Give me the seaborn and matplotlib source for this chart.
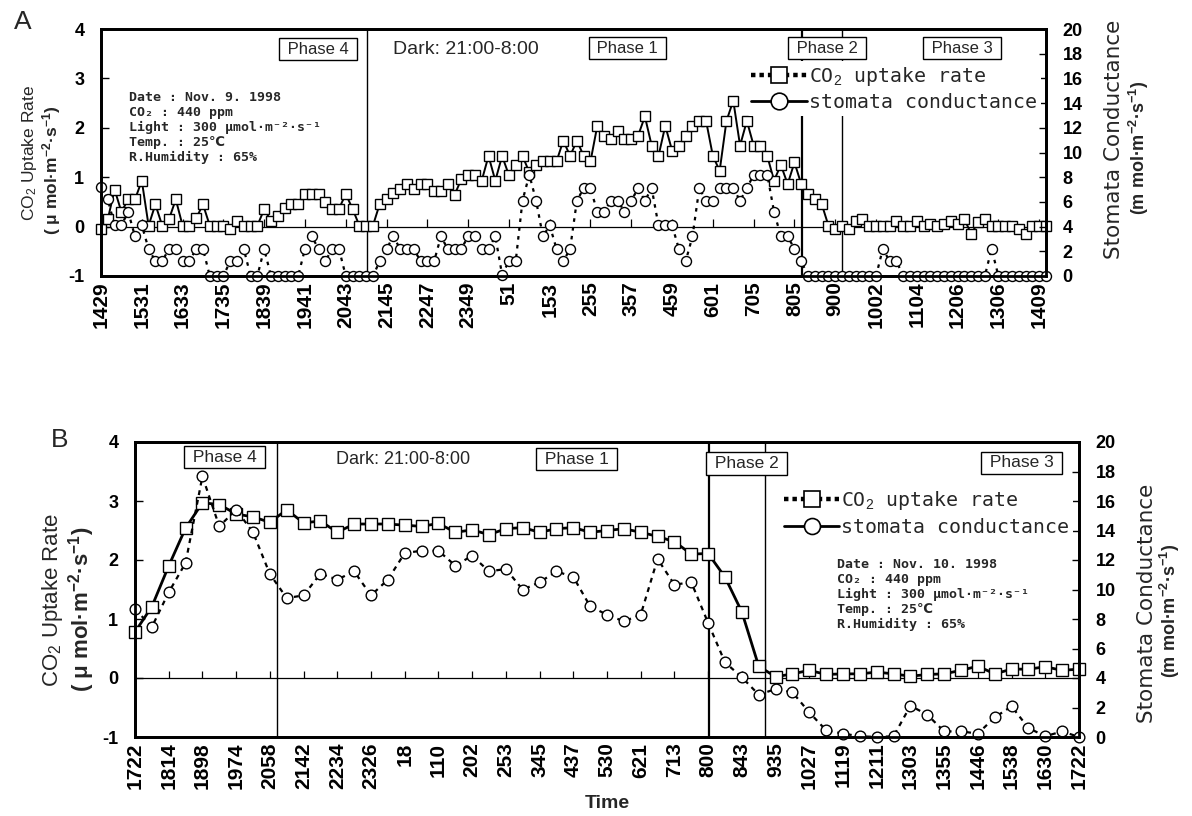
import matplotlib
matplotlib.use("Agg")
import matplotlib.pyplot as plt
import seaborn as sns
import numpy as np
import pandas as pd
from matplotlib.lines import Line2D

# ---------------- Panel A data (Nov. 9, 1998) ----------------
a_time_labels = ['1429', '1531', '1633', '1735', '1839', '1941', '2043', '2145',
                 '2247', '2349', '51', '153', '255', '357', '459', '601', '705',
                 '805', '900', '1002', '1104', '1206', '1306', '1409']
a_label_step = 6
a_co2 = [-0.05, 0.15, 0.75, 0.30, 0.55, 0.55, 0.93, 0.02, 0.45, 0.02,
         0.15, 0.55, 0.02, 0.02, 0.17, 0.45, 0.02, 0.02, 0.02, -0.05,
         0.12, 0.02, 0.02, 0.02, 0.35, 0.12, 0.22, 0.37, 0.46, 0.46,
         0.66, 0.66, 0.66, 0.49, 0.36, 0.36, 0.66, 0.36, 0.02, 0.02,
         0.02, 0.46, 0.56, 0.69, 0.76, 0.86, 0.76, 0.86, 0.86, 0.73,
         0.73, 0.86, 0.64, 0.96, 1.04, 1.04, 0.93, 1.43, 0.93, 1.43,
         1.04, 1.25, 1.43, 1.10, 1.25, 1.32, 1.32, 1.32, 1.74, 1.43,
         1.74, 1.43, 1.32, 2.04, 1.84, 1.77, 1.94, 1.77, 1.77, 1.84,
         2.23, 1.64, 1.43, 2.04, 1.54, 1.64, 1.84, 2.04, 2.14, 2.14,
         1.43, 1.13, 2.14, 2.55, 1.64, 2.14, 1.64, 1.64, 1.43, 0.93,
         1.25, 0.86, 1.30, 0.86, 0.66, 0.56, 0.46, 0.02, -0.05, 0.02,
         -0.05, 0.12, 0.15, 0.02, 0.02, 0.02, 0.02, 0.12, 0.02, 0.02,
         0.12, 0.02, 0.05, 0.02, 0.05, 0.12, 0.05, 0.15, -0.15, 0.09,
         0.15, 0.02, 0.02, 0.02, 0.02, -0.05, -0.15, 0.02, 0.02, 0.02]
a_cond = [7.2, 6.2, 4.1, 4.1, 5.2, 3.2, 4.1, 2.2, 1.2, 1.2,
          2.2, 2.2, 1.2, 1.2, 2.2, 2.2, 0.0, 0.0, 0.0, 1.2,
          1.2, 2.2, 0.0, 0.0, 2.2, 0.0, 0.0, 0.0, 0.0, 0.0,
          2.2, 3.2, 2.2, 1.2, 2.2, 2.2, 0.0, 0.0, 0.0, 0.0,
          0.0, 1.2, 2.2, 3.2, 2.2, 2.2, 2.2, 1.2, 1.2, 1.2,
          3.2, 2.2, 2.2, 2.2, 3.2, 3.2, 2.2, 2.2, 3.2, 0.1,
          1.2, 1.2, 6.1, 8.2, 6.1, 3.2, 4.1, 2.2, 1.2, 2.2,
          6.1, 7.1, 7.1, 5.2, 5.2, 6.1, 6.1, 5.2, 6.1, 7.1,
          6.1, 7.1, 4.1, 4.1, 4.1, 2.2, 1.2, 3.2, 7.1, 6.1,
          6.1, 7.1, 7.1, 7.1, 6.1, 7.1, 8.2, 8.2, 8.2, 5.2,
          3.2, 3.2, 2.2, 1.2, 0.0, 0.0, 0.0, 0.0, 0.0, 0.0,
          0.0, 0.0, 0.0, 0.0, 0.0, 2.2, 1.2, 1.2, 0.0, 0.0,
          0.0, 0.0, 0.0, 0.0, 0.0, 0.0, 0.0, 0.0, 0.0, 0.0,
          0.0, 2.2, 0.0, 0.0, 0.0, 0.0, 0.0, 0.0, 0.0, 0.0]

# ---------------- Panel B data (Nov. 10, 1998) ----------------
b_time_labels = ['1722', '1814', '1898', '1974', '2058', '2142', '2234', '2326',
                 '18', '110', '202', '253', '345', '437', '530', '621', '713',
                 '800', '843', '935', '1027', '1119', '1211', '1303', '1355',
                 '1446', '1538', '1630', '1722']
b_label_step = 2
b_co2 = [0.78, 1.21, 1.90, 2.54, 2.97, 2.94, 2.78, 2.73, 2.64, 2.85,
         2.63, 2.66, 2.47, 2.61, 2.61, 2.61, 2.59, 2.57, 2.62, 2.47,
         2.51, 2.43, 2.53, 2.55, 2.47, 2.53, 2.55, 2.47, 2.50, 2.53,
         2.47, 2.40, 2.31, 2.10, 2.11, 1.71, 1.12, 0.20, 0.02, 0.07,
         0.13, 0.06, 0.07, 0.07, 0.10, 0.07, 0.03, 0.06, 0.07, 0.13,
         0.20, 0.07, 0.15, 0.15, 0.19, 0.13, 0.15]
b_cond = [8.68, 7.46, 9.81, 11.8, 17.67, 14.28, 15.41, 13.88, 11.05, 9.42,
          9.6, 11.07, 10.67, 11.23, 9.6, 10.67, 12.47, 12.63, 12.63, 11.62,
          12.29, 11.23, 11.39, 9.99, 10.49, 11.23, 10.85, 8.86, 8.29, 7.84,
          8.29, 12.07, 10.33, 10.49, 7.73, 5.06, 4.05, 2.87, 3.25, 3.03,
          1.67, 0.45, 0.23, 0.05, 0.0, 0.05, 2.12, 1.51, 0.38, 0.38,
          0.23, 1.33, 2.08, 0.61, 0.05, 0.38, 0.0]

left_ticks = [-1, 0, 1, 2, 3, 4]
right_ticks = [0, 2, 4, 6, 8, 10, 12, 14, 16, 18, 20]
series_labels = ['CO$_2$ uptake rate', 'stomata conductance']

# ---------------- style ----------------
sns.set_theme(style="white")
plt.rcParams['font.family'] = ['Liberation Sans', 'DejaVu Sans']
plt.rcParams['axes.unicode_minus'] = False
plt.rcParams['mathtext.fontset'] = 'custom'
plt.rcParams['mathtext.rm'] = 'Liberation Sans'
plt.rcParams['mathtext.it'] = 'Liberation Sans:italic'
plt.rcParams['mathtext.bf'] = 'Liberation Sans:bold'

W, H = 1192, 816
fig = plt.figure(figsize=(W / 100, H / 100), dpi=100)
fig.patch.set_facecolor('white')
axA = fig.add_axes([101 / W, 1 - 276 / H, 945 / W, 247 / H])
axB = fig.add_axes([135 / W, 1 - 737 / H, 944 / W, 295 / H])

MONO = ['DejaVu Sans Mono', 'DejaVu Sans']


def panel(ax, co2, cond, labels, step, sq_ms, ci_ms, sq_lw, dash, tick_h):
    n = len(co2)
    df = pd.DataFrame({'idx': np.arange(n), 'co2': co2, 'cond': cond})
    ax2 = ax.twinx()
    sns.lineplot(data=df, x='idx', y='co2', ax=ax, color='black', linewidth=sq_lw,
                 marker='s', markersize=sq_ms, markerfacecolor='white',
                 markeredgecolor='black', markeredgewidth=1.0, clip_on=False, zorder=3)
    sns.lineplot(data=df, x='idx', y='cond', ax=ax2, color='black', linewidth=1.6,
                 linestyle=dash, marker='o', markersize=ci_ms, markerfacecolor='white',
                 markeredgecolor='black', markeredgewidth=1.0, clip_on=False, zorder=3)
    ax.set_xlim(0, n - 1)
    ax.set_ylim(left_ticks[0], left_ticks[-1])
    ax2.set_ylim(right_ticks[0], right_ticks[-1])
    tick_idx = np.arange(0, n, step)
    ax.set_xticks(tick_idx)
    ax.set_xticklabels(labels, rotation=90, fontsize=15, fontweight='bold')
    ax.tick_params(axis='x', length=0, pad=4, colors='black')
    ax.set_yticks(left_ticks)
    ax.set_yticklabels([str(v) for v in left_ticks], fontsize=13, fontweight='bold')
    ax.tick_params(axis='y', direction='in', length=6, width=1.0, pad=12, left=True,
                   colors='black')
    ax2.set_yticks(right_ticks)
    ax2.set_yticklabels([str(v) for v in right_ticks], fontsize=13, fontweight='bold')
    ax2.tick_params(axis='y', direction='in', length=5, width=1.0, pad=12, right=True,
                    colors='black')
    ax.set_xlabel('')
    ax.set_ylabel('')
    ax2.set_ylabel('')
    ax.axhline(0, color='black', lw=0.9, zorder=1)
    ax.vlines(tick_idx, 0, tick_h, color='black', lw=0.9, zorder=1)
    for a in (ax, ax2):
        for s in a.spines.values():
            s.set_linewidth(2.0)
            s.set_color('black')
            s.set_zorder(5)
    ax.grid(False)
    ax2.grid(False)
    return ax2


def legend(ax2, anchor, fs, ms, spacing):
    h1 = Line2D([], [], color='black', lw=3.2, linestyle=(0, (1.0, 0.9)), marker='s',
                markersize=ms, markerfacecolor='white', markeredgecolor='black',
                markeredgewidth=1.2)
    h2 = Line2D([], [], color='black', lw=2.0, linestyle='-', marker='o',
                markersize=ms, markerfacecolor='white', markeredgecolor='black',
                markeredgewidth=1.2)
    lg = ax2.legend([h1, h2], series_labels, loc='upper left', bbox_to_anchor=anchor,
                    frameon=True, facecolor='white', edgecolor='none', framealpha=1,
                    prop={'family': MONO, 'size': fs}, handlelength=2.8,
                    handletextpad=0.1, labelspacing=spacing, borderpad=0.2,
                    borderaxespad=0)
    lg.set_zorder(4)


def phase_box(ax, x, y, txt, fs):
    ax.text(x, y, txt, transform=ax.transAxes, ha='center', va='center', fontsize=fs,
            bbox=dict(boxstyle='square,pad=0.22', fc='white', ec='black', lw=1.0),
            zorder=6)


def info(ax, x, y, date):
    lines = ['Date : ' + date,
             'CO\u2082 : 440 ppm',
             'Light : 300 \u03bcmol\u00b7m\u207b\u00b2\u00b7s\u207b\u00b9',
             'Temp. : 25\u2103',
             'R.Humidity : 65%']
    for k, ln in enumerate(lines):
        ax.annotate(ln, xy=(x, y), xycoords='axes fraction', xytext=(0, -10.8 * k),
                    textcoords='offset points', ha='left', va='baseline', fontsize=9.5,
                    fontweight='bold', family=MONO, zorder=6)


def ylabels(ax, xl1, xl2, yl1, yl2, fs_l, xr1, xr2, yr1, yr2, fs_r, fs_r2):
    ax.text(xl1, yl1, 'CO$_2$ Uptake Rate', transform=ax.transAxes, rotation=90,
            ha='center', va='center', fontsize=fs_l)
    ax.text(xl2, yl2, '( \u03bc mol\u00b7m$^{\\mathbf{-2}}$\u00b7s$^{\\mathbf{-1}}$)',
            transform=ax.transAxes, rotation=90, ha='center', va='center',
            fontsize=fs_l, fontweight='bold')
    ax.text(xr1, yr1, 'Stomata Conductance', transform=ax.transAxes, rotation=90,
            ha='center', va='center', fontsize=fs_r, family=['DejaVu Sans'])
    ax.text(xr2, yr2, '(m mol\u00b7m$^{\\mathbf{-2}}$\u00b7s$^{\\mathbf{-1}}$)',
            transform=ax.transAxes, rotation=90, ha='center', va='center',
            fontsize=fs_r2, fontweight='bold')


# ---------------- Panel A ----------------
axA2 = panel(axA, a_co2, a_cond, a_time_labels, a_label_step, 7.0, 7.2, 1.4,
             (0, (1.6, 2.4)), 0.16)
for xv, lw in [(39.1, 1.0), (103.1, 1.6), (109.0, 1.0)]:
    axA.axvline(xv, color='black', lw=lw, zorder=2)
phase_box(axA, 0.230, 0.918, ' Phase 4 ', 12)
axA.text(0.309, 0.915, 'Dark: 21:00-8:00', transform=axA.transAxes, ha='left',
         va='center', fontsize=14)
phase_box(axA, 0.557, 0.922, ' Phase 1 ', 12)
phase_box(axA, 0.768, 0.922, ' Phase 2 ', 12)
phase_box(axA, 0.911, 0.922, ' Phase 3 ', 12)
legend(axA2, (0.684, 0.872), 14.3, 12, 0.25)
info(axA, 0.030, 0.709, 'Nov. 9. 1998')
ylabels(axA, -0.076, -0.052, 0.50, 0.43, 12.5, 1.072, 1.098, 0.555, 0.52, 15.5, 13)

# ---------------- Panel B ----------------
axB2 = panel(axB, b_co2, b_cond, b_time_labels, b_label_step, 8.3, 7.7, 2.0,
             (0, (2.2, 2.2)), 0.12)
for xv, lw in [(8.4, 1.0), (34.05, 1.6), (37.4, 1.0)]:
    axB.axvline(xv, color='black', lw=lw, zorder=2)
phase_box(axB, 0.095, 0.949, ' Phase 4 ', 12.5)
axB.text(0.213, 0.939, 'Dark: 21:00-8:00', transform=axB.transAxes, ha='left',
         va='center', fontsize=13)
phase_box(axB, 0.468, 0.942, ' Phase 1 ', 12.5)
phase_box(axB, 0.648, 0.927, ' Phase 2 ', 12.5)
phase_box(axB, 0.939, 0.929, ' Phase 3 ', 12.5)
legend(axB2, (0.683, 0.855), 14.3, 11.5, 0.3)
info(axB, 0.744, 0.573, 'Nov. 10. 1998')
ylabels(axB, -0.087, -0.057, 0.464, 0.434, 16, 1.072, 1.096, 0.454, 0.427, 15.5, 13)
axB.set_xlabel('Time', fontsize=14, fontweight='bold', labelpad=4)

fig.text(23 / W, 1 - 22 / H, 'A', fontsize=19, ha='center', va='center')
fig.text(60 / W, 1 - 440 / H, 'B', fontsize=19, ha='center', va='center')

fig.savefig('out.png', dpi=100, facecolor='white')
